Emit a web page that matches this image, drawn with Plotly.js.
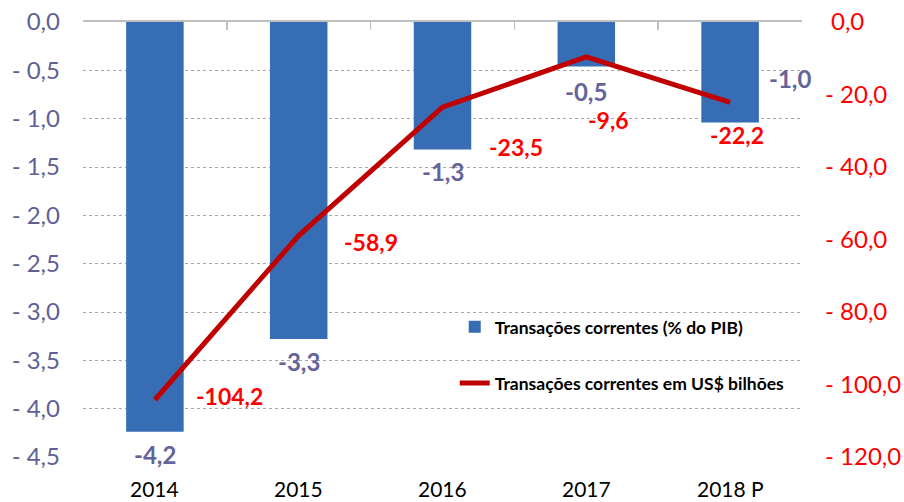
<!DOCTYPE html>
<html>
<head>
<meta charset="utf-8">
<script src="https://cdn.plot.ly/plotly-3.0.1.min.js"></script>
<style>html,body{margin:0;padding:0;background:#fff;}#chart{width:904px;height:502px;}</style>
</head>
<body>
<div id="chart"></div>
<script>
// ---- data ----
const categories = ['2014', '2015', '2016', '2017', '2018 P'];
const pctPIB = [-4.24, -3.28, -1.32, -0.46, -1.04];          // Transações correntes (% do PIB)
const usdBilhoes = [-104.2, -58.9, -23.5, -9.6, -22.2];      // Transações correntes em US$ bilhões
const leftTickVals = [0, -0.5, -1, -1.5, -2, -2.5, -3, -3.5, -4, -4.5];
const leftTickText = ['0,0', '- 0,5', '- 1,0', '- 1,5', '- 2,0', '- 2,5', '- 3,0', '- 3,5', '- 4,0', '- 4,5'];
const rightTickVals = [0, -20, -40, -60, -80, -100, -120];
const rightTickText = ['\u2009\u20090,0', '- 20,0', '- 40,0', '- 60,0', '- 80,0', '- 100,0', '- 120,0'];
const seriesNames = ['Transações correntes (% do PIB)', 'Transações correntes em US$ bilhões'];

// label offsets (styling)
const barLabelShift = [[0, -23], [0, -22.5], [0, -22], [0, -25], [60, 44.5]];
const lineLabelShift = [[74.5, 4], [72, -6.5], [73, -40], [22, -63], [7, -33]];

const fmt = v => v.toFixed(1).replace('.', ',');
const FONT = 'Lato, "Open Sans", sans-serif';

const traces = [
  {
    type: 'bar', name: seriesNames[0], x: categories, y: pctPIB,
    marker: { color: '#376db5', line: { width: 0 } }, width: 0.4,
    xaxis: 'x', yaxis: 'y', legend: 'legend', hoverinfo: 'skip'
  },
  {
    type: 'scatter', mode: 'lines', name: seriesNames[1], x: categories, y: usdBilhoes,
    line: { color: '#c00000', width: 5 },
    xaxis: 'x', yaxis: 'y2', legend: 'legend2', hoverinfo: 'skip'
  }
];

const annotations = [];
categories.forEach((c, i) => {
  // on a category axis, x = index i places the annotation at category c
  annotations.push({
    x: i, y: pctPIB[i], xref: 'x', yref: 'y', text: fmt(pctPIB[i]), showarrow: false,
    xanchor: 'center', yanchor: 'middle', xshift: barLabelShift[i][0], yshift: barLabelShift[i][1],
    font: { family: FONT, size: 24, color: '#64649a', weight: 'bold' }
  });
  annotations.push({
    x: i, y: usdBilhoes[i], xref: 'x', yref: 'y2', text: fmt(usdBilhoes[i]), showarrow: false,
    xanchor: 'center', yanchor: 'middle', xshift: lineLabelShift[i][0], yshift: lineLabelShift[i][1],
    font: { family: FONT, size: 23, color: '#ff0000', weight: 'bold' }
  });
  // category labels below the plot
  annotations.push({
    x: i, y: 0, xref: 'x', yref: 'paper', text: c, showarrow: false, borderpad: 0,
    xanchor: 'center', yanchor: 'middle', yshift: -31,
    font: { family: FONT, size: 21, color: '#000' }
  });
});

const layout = {
  width: 904, height: 502,
  margin: { l: 83, r: 102, t: 22, b: 45, pad: 0 },
  paper_bgcolor: '#ffffff', plot_bgcolor: '#ffffff',
  font: { family: FONT, color: '#000' },
  showlegend: true,
  xaxis: {
    type: 'category', side: 'top', showline: true, linecolor: '#bfbfbf', linewidth: 2,
    ticks: 'inside', tickson: 'boundaries', ticklen: 8, tickcolor: '#bfbfbf', tickwidth: 1.5,
    showticklabels: false, showgrid: false, zeroline: false, fixedrange: true,
    range: [-0.5, 4.5]
  },
  yaxis: {
    range: [-4.5, 0], tickvals: leftTickVals, ticktext: leftTickText,
    showgrid: true, gridcolor: '#a6a6a6', griddash: 'dot', gridwidth: 1,
    zeroline: false, showline: false, ticks: '', ticklabelstandoff: 22,
    tickfont: { family: FONT, size: 24, color: '#5f5f96' }
  },
  yaxis2: {
    range: [-120, 0], overlaying: 'y', side: 'right', anchor: 'x',
    tickvals: rightTickVals, ticktext: rightTickText,
    showgrid: false, zeroline: false, showline: false, ticks: '', ticklabelstandoff: 22,
    tickfont: { family: FONT, size: 24, color: '#ff0000' }
  },
  legend: {
    x: 0.517, y: 0.299, xanchor: 'left', yanchor: 'middle', bgcolor: 'rgba(0,0,0,0)',
    font: { family: FONT, size: 17.5, color: '#000', weight: 'bold' }
  },
  legend2: {
    x: 0.517, y: 0.170, xanchor: 'left', yanchor: 'middle', bgcolor: 'rgba(0,0,0,0)',
    font: { family: FONT, size: 17.5, color: '#000', weight: 'bold' }
  },
  annotations: annotations
};

Plotly.newPlot('chart', traces, layout, { staticPlot: true, displayModeBar: false });
</script>
</body>
</html>
